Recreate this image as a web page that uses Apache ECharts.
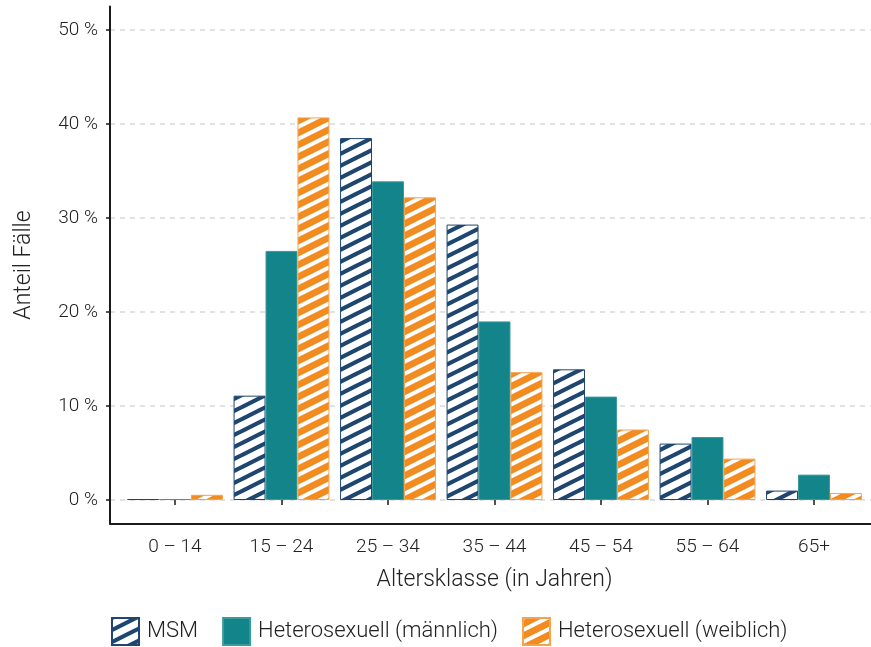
<!DOCTYPE html>
<html>
<head>
<meta charset="utf-8">
<script src="https://cdn.jsdelivr.net/npm/echarts@6/dist/echarts.min.js"></script>
<style>
  html, body { margin: 0; padding: 0; background: #fff; }
  #main { width: 871px; height: 647px; }
</style>
</head>
<body>
<div id="main"></div>
<script>
// Altersklassen und Anteile (in %)
const categories = ["0 – 14", "15 – 24", "25 – 34", "35 – 44", "45 – 54", "55 – 64", "65+"];
const msm = [0.1, 11.1, 38.5, 29.3, 13.9, 6.0, 1.0];
const heteroMale = [0.1, 26.5, 33.9, 19.0, 11.0, 6.7, 2.7];
const heteroFemale = [0.55, 40.7, 32.2, 13.6, 7.5, 4.4, 0.75];
const yTicks = [0, 10, 20, 30, 40, 50];

const NAVY = "#1e4670";
const TEAL = "#138489";
const ORANGE = "#f28b20";
const FONT = "Roboto";

// Schraffur als Canvas-Muster
function stripes(bg, fg, lw) {
  const w = 24, h = 12;
  const c = document.createElement("canvas");
  c.width = w; c.height = h;
  const ctx = c.getContext("2d");
  ctx.fillStyle = bg;
  ctx.fillRect(0, 0, w, h);
  ctx.strokeStyle = fg;
  ctx.lineWidth = lw;
  for (const dy of [-h, 0, h]) {
    ctx.beginPath();
    ctx.moveTo(-w, 2 * h + dy);
    ctx.lineTo(2 * w, -h + dy);
    ctx.stroke();
  }
  return { image: c, repeat: "repeat" };
}

const chart = echarts.init(document.getElementById("main"));

const option = {
  animation: false,
  textStyle: { fontFamily: FONT },
  grid: [
    // Rahmen (Achsenlinien)
    { left: 110, right: -10, top: 6.5, bottom: 123.5 },
    // Gitterlinien + y-Beschriftung
    { left: 110, right: -10, top: 30, bottom: 147 },
    // Balken
    { left: 121.75, right: 3.75, top: 30, bottom: 147 }
  ],
  xAxis: [
    {
      gridIndex: 0, type: "value", min: 0, max: 1,
      axisLine: { show: true, onZero: false, lineStyle: { color: "#1a1a1a", width: 2 } },
      axisTick: { show: false }, axisLabel: { show: false }, splitLine: { show: false }
    },
    {
      gridIndex: 1, type: "value", min: 0, max: 1, show: false
    },
    {
      gridIndex: 2, type: "category", data: categories,
      offset: 23,
      axisLine: { show: false },
      axisTick: { show: true, alignWithLabel: true, length: 5, lineStyle: { color: "#1a1a1a", width: 1.5 } },
      axisLabel: { color: "#222", fontSize: 19, fontWeight: 300, margin: 15, fontFamily: FONT },
      name: "Altersklasse (in Jahren)",
      nameLocation: "middle",
      nameGap: 46,
      nameTextStyle: { color: "#222", fontSize: 23, fontWeight: 300, fontFamily: FONT }
    }
  ],
  yAxis: [
    {
      gridIndex: 0, type: "value", min: -2.5, max: 52.5,
      axisLine: { show: true, lineStyle: { color: "#1a1a1a", width: 2 } },
      axisTick: { show: false }, axisLabel: { show: false }, splitLine: { show: false }
    },
    {
      gridIndex: 1, type: "value", min: 0, max: 50, interval: 10,
      axisLine: { show: false },
      axisTick: { show: true, length: 4, lineStyle: { color: "#1a1a1a", width: 1.5 } },
      axisLabel: {
        color: "#222", fontSize: 19, fontWeight: 300, margin: 12, fontFamily: FONT,
        formatter: v => yTicks.includes(v) ? v + " %" : ""
      },
      splitLine: { show: true, lineStyle: { color: "#d9d9d9", width: 1.5, type: [5, 5] } },
      name: "Anteil Fälle",
      nameLocation: "middle",
      nameGap: 74,
      nameTextStyle: { color: "#222", fontSize: 23, fontWeight: 300, fontFamily: FONT }
    },
    {
      gridIndex: 2, type: "value", min: 0, max: 50, show: false
    }
  ],
  legend: {
    left: 111,
    top: 617,
    padding: 0,
    itemWidth: 27,
    itemHeight: 27,
    itemGap: 24,
    icon: "rect",
    textStyle: { color: "#222", fontSize: 22, fontWeight: 300, fontFamily: FONT, padding: [0, 0, 0, 3] },
    data: ["MSM", "Heterosexuell (männlich)", "Heterosexuell (weiblich)"]
  },
  series: [
    {
      name: "MSM", type: "bar", xAxisIndex: 2, yAxisIndex: 2,
      data: msm, barGap: "0%", barCategoryGap: "10%",
      itemStyle: { color: stripes("#ffffff", NAVY, 4.2), borderColor: NAVY, borderWidth: 1 }
    },
    {
      name: "Heterosexuell (männlich)", type: "bar", xAxisIndex: 2, yAxisIndex: 2,
      data: heteroMale, barGap: "0%", barCategoryGap: "10%",
      itemStyle: { color: TEAL, borderColor: "#3a9a9e", borderWidth: 1 }
    },
    {
      name: "Heterosexuell (weiblich)", type: "bar", xAxisIndex: 2, yAxisIndex: 2,
      data: heteroFemale, barGap: "0%", barCategoryGap: "10%",
      itemStyle: { color: stripes(ORANGE, "#ffffff", 4), borderColor: "#f5a34e", borderWidth: 1 }
    }
  ]
};

chart.setOption(option);
</script>
</body>
</html>
